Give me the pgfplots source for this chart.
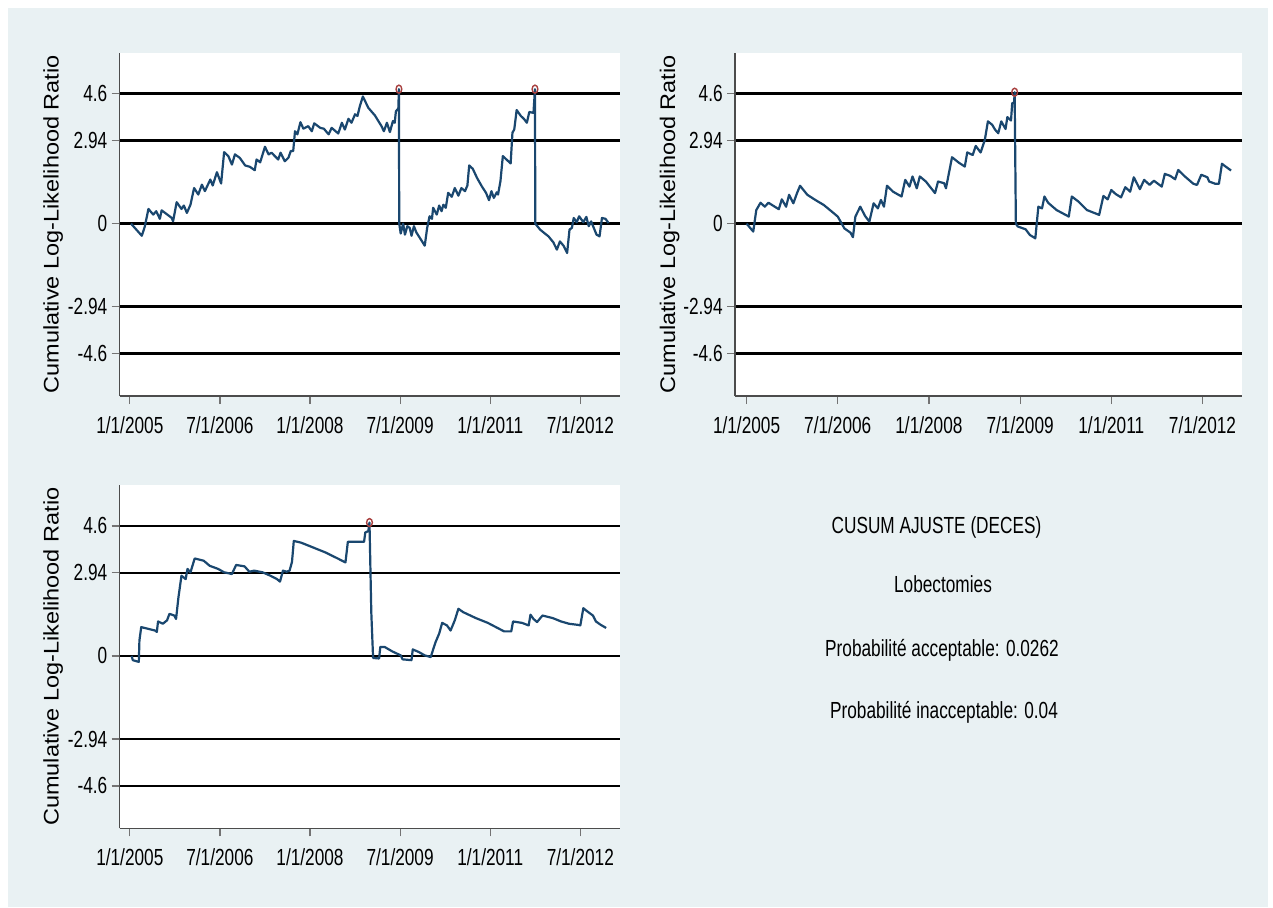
\documentclass[border=0pt]{standalone}
\usepackage{graphicx}
\usepackage{fontspec}
\setmainfont{Liberation Sans}[FakeStretch=0.74]
\newfontfamily\labelfont{Liberation Sans}
\usepackage{pgfplots}
\pgfplotsset{compat=1.18}

\definecolor{graphbg}{HTML}{E9F1F3}
\definecolor{cusumline}{HTML}{1A476F}
\definecolor{signal}{HTML}{A8403F}

\newcommand{\ticksize}{\fontsize{11.65}{13}\selectfont}

\pgfplotsset{
  cusum/.style={
    scale only axis,
    width=250pt, height=171.65pt,
    xmin=2004.83, xmax=2013.154,
    ymin=-6.1, ymax=6.05,
    axis lines=left,
    axis line style={-, draw=black!70, line width=0.7pt},
    tick align=outside,
    major tick length=4pt,
    tick style={black!55, line width=0.6pt},
    xtick={2005,2006.5,2008,2009.5,2011,2012.5},
    xticklabels={1/1/2005,7/1/2006,1/1/2008,7/1/2009,1/1/2011,7/1/2012},
    ytick={-4.6,-2.94,0,2.94,4.6},
    yticklabels={-4.6,-2.94,0,2.94,4.6},
    ymajorgrids,
    major grid style={black, line width=1.3pt},
    ticklabel style={font=\ticksize},
    xticklabel style={anchor=north, inner sep=0pt, yshift=-6pt},
    yticklabel style={anchor=east, inner sep=0pt, xshift=-2pt},
    axis background/.style={fill=white},
    ylabel={\labelfont\fontsize{11.75}{14}\selectfont\scalebox{1}[0.9]{Cumulative Log-Likelihood Ratio}},
    every axis y label/.style={at={(axis description cs:-0.133,0.5)}, rotate=90, anchor=center, inner sep=0pt},
  },
  curve/.style={color=cusumline, line width=1.1pt, line join=round, mark=none},
  alarm/.style={only marks, mark=o, mark size=2pt,
    mark options={draw=signal, line width=0.7pt, xscale=0.72}},
}

\begin{document}
\begin{tikzpicture}
\path[use as bounding box] (0,0) rectangle (636.5pt,453.5pt);
\fill[graphbg] (4pt,0pt) rectangle (634pt,449.5pt);

% top left panel
\begin{axis}[cusum, at={(59.8pt,255.5pt)}, anchor=south west]
\addplot[curve] coordinates {
(2005.02,0) (2005.20,-0.43) (2005.25,-0.10) (2005.31,0.52) (2005.39,0.32)
(2005.44,0.44) (2005.50,0.17) (2005.53,0.47) (2005.70,0.20) (2005.72,0.08)
(2005.78,0.76) (2005.86,0.52) (2005.90,0.64) (2005.95,0.38) (2006.01,0.67)
(2006.07,1.26) (2006.14,1.03) (2006.20,1.38) (2006.25,1.15) (2006.34,1.56)
(2006.38,1.35) (2006.45,1.82) (2006.52,1.42) (2006.57,2.53) (2006.64,2.39)
(2006.70,2.09) (2006.75,2.45) (2006.83,2.33) (2006.92,2.06) (2007.00,2.01)
(2007.08,1.89) (2007.11,2.27) (2007.17,2.17) (2007.25,2.72) (2007.31,2.45)
(2007.36,2.51) (2007.47,2.27) (2007.51,2.51) (2007.58,2.21) (2007.64,2.33)
(2007.68,2.57) (2007.72,2.57) (2007.75,3.27) (2007.79,3.16) (2007.84,3.59)
(2007.89,3.36) (2007.97,3.45) (2008.03,3.27) (2008.07,3.55) (2008.17,3.39)
(2008.23,3.36) (2008.31,3.16) (2008.36,3.39) (2008.47,3.19) (2008.53,3.57)
(2008.58,3.33) (2008.64,3.71) (2008.69,3.57) (2008.75,3.87) (2008.79,3.81)
(2008.83,4.16) (2008.88,4.50) (2008.97,4.10) (2009.08,3.83) (2009.19,3.45)
(2009.23,3.27) (2009.28,3.57) (2009.33,3.24) (2009.38,3.63) (2009.41,3.57)
(2009.43,3.98) (2009.47,4.07) (2009.48,4.76) (2009.485,0) (2009.51,-0.35)
(2009.55,0) (2009.58,-0.39) (2009.62,-0.09) (2009.66,-0.15) (2009.69,-0.43)
(2009.73,-0.09) (2009.77,-0.31) (2009.83,-0.51) (2009.91,-0.78) (2009.95,-0.15)
(2009.99,0.26) (2010.03,0.17) (2010.05,0.56) (2010.11,0.32) (2010.15,0.64)
(2010.19,0.44) (2010.22,0.67) (2010.26,0.56) (2010.30,1.09) (2010.36,0.95)
(2010.41,1.26) (2010.47,0.99) (2010.52,1.26) (2010.58,1.15) (2010.62,1.35)
(2010.65,2.06) (2010.71,1.94) (2010.78,1.62) (2010.86,1.32) (2010.93,1.09)
(2010.98,0.83) (2011.02,1.15) (2011.06,0.91) (2011.11,1.11) (2011.13,1.03)
(2011.17,1.50) (2011.21,2.39) (2011.27,2.27) (2011.34,2.13) (2011.37,3.22)
(2011.40,3.33) (2011.44,4.02) (2011.51,3.81) (2011.56,3.71) (2011.61,3.57)
(2011.65,3.95) (2011.72,3.92) (2011.745,4.76) (2011.75,0) (2011.83,-0.21)
(2011.91,-0.35) (2011.97,-0.45) (2012.05,-0.66) (2012.11,-0.92) (2012.16,-0.63)
(2012.22,-0.78) (2012.28,-1.04) (2012.32,-0.21) (2012.36,-0.15) (2012.39,0.20)
(2012.44,0.05) (2012.48,0.26) (2012.55,0.05) (2012.60,0.24) (2012.64,-0.09)
(2012.68,0.08) (2012.77,-0.39) (2012.82,-0.45) (2012.86,0.20) (2012.92,0.17)
(2012.97,0.02)
};
\addplot[alarm] coordinates {(2009.48,4.76) (2011.745,4.76)};
\end{axis}

% top right panel
\begin{axis}[cusum, at={(367.5pt,255.5pt)}, anchor=south west,
  width=253.5pt, xmin=2004.81, xmax=2013.15,
  every axis y label/.style={at={(axis description cs:-0.129,0.5)}, rotate=90, anchor=center, inner sep=0pt}]
\addplot[curve] coordinates {
(2005.00,0) (2005.11,-0.28) (2005.16,0.48) (2005.23,0.74) (2005.30,0.60)
(2005.36,0.74) (2005.53,0.51) (2005.58,0.86) (2005.65,0.60) (2005.70,1.02)
(2005.77,0.72) (2005.83,1.08) (2005.88,1.34) (2006.00,1.02) (2006.13,0.84)
(2006.27,0.66) (2006.40,0.43) (2006.50,0.25) (2006.61,-0.17) (2006.71,-0.32)
(2006.75,-0.48) (2006.79,0.25) (2006.87,0.60) (2006.95,0.27) (2007.02,0.07)
(2007.09,0.72) (2007.16,0.54) (2007.21,0.84) (2007.26,0.60) (2007.31,1.34)
(2007.41,1.13) (2007.55,0.96) (2007.61,1.55) (2007.68,1.31) (2007.73,1.67)
(2007.80,1.25) (2007.85,1.67) (2007.95,1.49) (2008.10,1.08) (2008.15,1.49)
(2008.25,1.43) (2008.28,1.25) (2008.38,2.35) (2008.49,2.16) (2008.59,2.02)
(2008.63,2.52) (2008.72,2.43) (2008.77,2.75) (2008.85,2.52) (2008.92,2.97)
(2008.97,3.62) (2009.04,3.50) (2009.09,3.32) (2009.14,3.20) (2009.19,3.62)
(2009.26,3.35) (2009.29,3.77) (2009.35,3.65) (2009.37,4.27) (2009.40,4.27)
(2009.41,4.65) (2009.43,0) (2009.46,-0.10) (2009.59,-0.20) (2009.66,-0.40)
(2009.75,-0.52) (2009.80,0.60) (2009.86,0.54) (2009.90,0.96) (2009.96,0.74)
(2010.10,0.48) (2010.30,0.25) (2010.35,0.96) (2010.46,0.78) (2010.60,0.48)
(2010.80,0.31) (2010.87,0.98) (2010.94,0.86) (2011.00,1.19) (2011.07,1.05)
(2011.16,0.93) (2011.23,1.29) (2011.31,1.13) (2011.37,1.64) (2011.47,1.22)
(2011.54,1.55) (2011.63,1.37) (2011.70,1.52) (2011.83,1.31) (2011.88,1.76)
(2011.97,1.69) (2012.05,1.57) (2012.10,1.90) (2012.21,1.67) (2012.35,1.41)
(2012.41,1.37) (2012.48,1.73) (2012.58,1.64) (2012.61,1.49) (2012.71,1.41)
(2012.77,1.41) (2012.82,2.12) (2012.88,2.02) (2012.97,1.88)
};
\addplot[alarm] coordinates {(2009.41,4.65)};
\end{axis}

% bottom left panel
\begin{axis}[cusum, at={(59.8pt,39.35pt)}, anchor=south west]
\addplot[curve] coordinates {
(2005.03,0) (2005.05,-0.15) (2005.15,-0.21) (2005.16,0.55) (2005.19,1.02)
(2005.42,0.90) (2005.45,0.85) (2005.47,1.22) (2005.55,1.14) (2005.62,1.26)
(2005.66,1.49) (2005.74,1.43) (2005.77,1.31) (2005.81,2.08) (2005.86,2.84)
(2005.93,2.72) (2005.96,3.08) (2006.01,2.96) (2006.08,3.45) (2006.23,3.37)
(2006.33,3.19) (2006.47,3.08) (2006.57,2.96) (2006.70,2.90) (2006.77,3.22)
(2006.91,3.17) (2006.99,2.98) (2007.07,3.02) (2007.21,2.96) (2007.34,2.84)
(2007.45,2.72) (2007.50,2.63) (2007.55,3.02) (2007.61,2.98) (2007.66,3.02)
(2007.70,3.33) (2007.73,4.07) (2007.85,4.01) (2008.05,3.84) (2008.26,3.66)
(2008.46,3.45) (2008.59,3.31) (2008.63,4.04) (2008.90,4.04) (2008.92,4.37)
(2008.97,4.42) (2008.99,4.72) (2009.02,1.55) (2009.05,-0.07) (2009.15,-0.09)
(2009.17,0.32) (2009.24,0.32) (2009.37,0.16) (2009.51,0.02) (2009.54,-0.12)
(2009.69,-0.15) (2009.71,0.23) (2009.81,0.14) (2009.91,0.02) (2010.01,-0.04)
(2010.05,0.23) (2010.09,0.49) (2010.15,0.79) (2010.20,1.17) (2010.28,1.08)
(2010.34,0.90) (2010.41,1.26) (2010.47,1.67) (2010.55,1.55) (2010.76,1.34)
(2010.96,1.17) (2011.23,0.87) (2011.35,0.87) (2011.38,1.22) (2011.53,1.17)
(2011.64,1.08) (2011.67,1.46) (2011.72,1.31) (2011.78,1.20) (2011.87,1.43)
(2012.04,1.34) (2012.18,1.22) (2012.31,1.14) (2012.46,1.10) (2012.50,1.08)
(2012.55,1.69) (2012.62,1.57) (2012.71,1.43) (2012.76,1.22) (2012.84,1.10)
(2012.93,0.99)
};
\addplot[alarm] coordinates {(2008.99,4.72)};
\end{axis}

% description of the chart
\begin{scope}[every node/.style={anchor=base, inner sep=0pt, font=\ticksize}]
\node at (468.25pt,186.85pt) {CUSUM AJUSTE (DECES)};
\node at (471.5pt,157.15pt) {Lobectomies};
\node at (471pt,125.15pt) {Probabilité acceptable: 0.0262};
\node at (472pt,94.35pt) {Probabilité inacceptable: 0.04};
\end{scope}
\end{tikzpicture}
\end{document}
